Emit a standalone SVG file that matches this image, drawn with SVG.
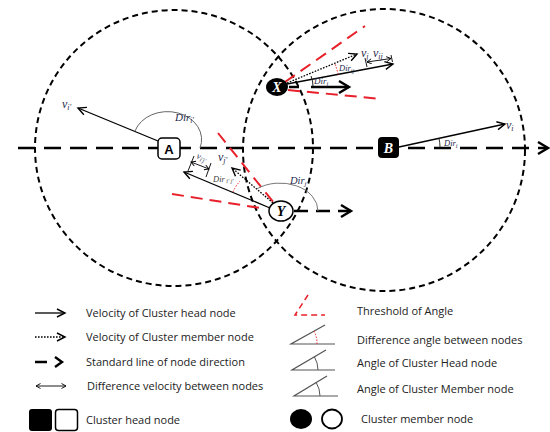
<svg xmlns="http://www.w3.org/2000/svg" width="550" height="432" viewBox="0 0 550 432">
<style>
.range{fill:none;stroke:#000;stroke-width:2;stroke-dasharray:6 4}
.std{fill:none;stroke:#000;stroke-width:2.5}
.vel{fill:none;stroke:#000;stroke-width:1.3}
.mem{fill:none;stroke:#000;stroke-width:1.3;stroke-dasharray:1.6 1.4}
.thr{fill:none;stroke:#e8202a;stroke-width:2;stroke-dasharray:12 7}
.diffarc{fill:none;stroke:#e8202a;stroke-width:1;stroke-dasharray:1.5 1.5}
.angarc{fill:none;stroke:#666;stroke-width:1}
.dim{fill:none;stroke:#000;stroke-width:0.9}
.lbl{font-family:"Liberation Serif",serif;font-style:italic;fill:#1f2a4a}
.leg{font-family:"Open Sans","Liberation Sans",sans-serif;font-size:11px;fill:#222}
.sym{fill:none;stroke:#555;stroke-width:1.2}
</style>
<defs>
<marker id="ah" markerUnits="userSpaceOnUse" markerWidth="12" markerHeight="12" refX="9" refY="5" orient="auto"><path d="M1,1 L9,5 L1,9" fill="none" stroke="#000" stroke-width="1.4"/></marker>
<marker id="ahT" markerUnits="userSpaceOnUse" markerWidth="14" markerHeight="16" refX="11" refY="7" orient="auto"><path d="M1,1 L11,7 L1,13" fill="none" stroke="#000" stroke-width="2.4"/></marker>
<marker id="ahS" markerUnits="userSpaceOnUse" markerWidth="8" markerHeight="8" refX="5" refY="3" orient="auto-start-reverse"><path d="M0.5,0.5 L5,3 L0.5,5.5" fill="none" stroke="#000" stroke-width="0.9"/></marker>
</defs>

<g id="ranges">
<ellipse cx="174" cy="148" rx="139" ry="138" class="range"/>
<circle cx="384" cy="150" r="141" class="range"/>
</g>

<g id="connectors">
<line x1="18" y1="148" x2="548" y2="148" class="std" style="stroke-dasharray:17 9" marker-end="url(#ahT)"/>
<!-- threshold lines -->
<line x1="285" y1="82" x2="365" y2="26" class="thr"/>
<line x1="288" y1="90" x2="382" y2="99" class="thr"/>
<line x1="218" y1="133" x2="274" y2="203" class="thr"/>
<line x1="172" y1="194" x2="260" y2="208" class="thr"/>
<!-- A velocity -->
<line x1="158" y1="141" x2="78" y2="108" class="vel" marker-end="url(#ah)"/>
<path d="M200,148 A33,27 0 0 0 135,131" class="angarc"/>
<!-- B velocity -->
<line x1="399" y1="147" x2="505" y2="124" class="vel" marker-end="url(#ah)"/>
<path d="M440,147 A40,40 0 0 0 439,138.4" class="angarc" style="stroke:#333"/>
<!-- X -->
<line x1="287" y1="83" x2="357" y2="54" class="mem" marker-end="url(#ah)"/>
<line x1="287" y1="84" x2="393" y2="64" class="vel" marker-end="url(#ah)"/>
<line x1="289" y1="87" x2="349" y2="87" class="std" style="stroke-dasharray:10 12 40" marker-end="url(#ahT)"/>
<path d="M313,86 A26,26 0 0 0 311,76" class="angarc" style="stroke:#222"/>
<path d="M338,74.4 A52,52 0 0 0 335,64" class="diffarc"/>
<line x1="365" y1="58" x2="367" y2="67" class="dim"/>
<line x1="391" y1="55" x2="392.5" y2="62" class="dim"/>
<line x1="367" y1="62" x2="391" y2="58.5" class="dim" marker-start="url(#ahS)" marker-end="url(#ahS)"/>
<!-- Y -->
<line x1="270" y1="208" x2="184" y2="172" class="vel" marker-end="url(#ah)"/>
<line x1="273" y1="203" x2="232" y2="168" class="mem" marker-end="url(#ah)"/>
<line x1="294" y1="211" x2="351" y2="211" class="std" style="stroke-dasharray:14 8" marker-end="url(#ahT)"/>
<path d="M318,211 A38,28 0 0 0 256.6,189" class="angarc" style="stroke:#777"/>
<path d="M233,192 A42,42 0 0 1 240,181" class="diffarc"/>
<line x1="188" y1="171" x2="194" y2="156" class="dim"/>
<line x1="206" y1="177" x2="211" y2="163" class="dim"/>
<line x1="191" y1="162" x2="209" y2="169" class="dim" marker-start="url(#ahS)" marker-end="url(#ahS)"/>
</g>

<g id="node-A">
<rect x="158" y="138" width="22" height="21" rx="4" fill="#fff" stroke="#000" stroke-width="1.5"/>
<text x="169" y="153.5" text-anchor="middle" font-family="Liberation Sans,sans-serif" font-weight="bold" font-size="13">A</text>
</g>
<g id="node-B">
<rect x="378" y="137" width="21" height="21" rx="4" fill="#000"/>
<text x="388.5" y="152.5" text-anchor="middle" font-family="Liberation Serif,serif" font-style="italic" font-weight="bold" font-size="14" fill="#fff">B</text>
</g>
<g id="node-X">
<ellipse cx="277" cy="87" rx="11" ry="9" fill="#000"/>
<text x="277" y="92" text-anchor="middle" font-family="Liberation Serif,serif" font-style="italic" font-weight="bold" font-size="14" fill="#fff">X</text>
</g>
<g id="node-Y">
<ellipse cx="281" cy="211" rx="12" ry="10" fill="#fff" stroke="#000" stroke-width="1.5"/>
<text x="281" y="216" text-anchor="middle" font-family="Liberation Serif,serif" font-style="italic" font-weight="bold" font-size="14" fill="#000">Y</text>
</g>

<g id="labels">
<text x="62" y="108" class="lbl" font-size="12">v<tspan font-size="8" dy="2">i'</tspan></text>
<text x="175" y="121" class="lbl" font-size="11">Dir<tspan font-size="7.5" dy="2">i'</tspan></text>
<text x="506" y="129" class="lbl" font-size="12">v<tspan font-size="8" dy="2">i</tspan></text>
<text x="444" y="146" class="lbl" font-size="8.5">Dir<tspan font-size="6" dy="1.5">i</tspan></text>
<text x="361" y="57" class="lbl" font-size="12">v<tspan font-size="8" dy="2">j</tspan></text>
<text x="373" y="57" class="lbl" font-size="12" font-style="normal">v<tspan font-size="8" dy="2">ij</tspan></text>
<text x="339" y="71" class="lbl" font-size="8.5">Dir<tspan font-size="6" dy="1.5">ij</tspan></text>
<text x="314" y="84" class="lbl" font-size="9">Dir<tspan font-size="6.5" dy="1.5">j</tspan></text>
<text x="218" y="161" class="lbl" font-size="12">v<tspan font-size="8" dy="2">j'</tspan></text>
<text x="196" y="158" class="lbl" font-size="9" transform="rotate(22 196 158)">v<tspan font-size="6.5" dy="1.5">i'j'</tspan></text>
<text x="213" y="182" class="lbl" font-size="8.5" style="fill:#444">Dir<tspan font-size="6" dy="1"> i' j'</tspan></text>
<text x="290" y="184" class="lbl" font-size="10.5">Dir<tspan font-size="7" dy="2">j</tspan></text>
</g>

<g id="legend">
<line x1="35" y1="313" x2="65" y2="313" class="vel" marker-end="url(#ah)"/>
<text x="86" y="317" class="leg">Velocity of Cluster head node</text>
<line x1="35" y1="337" x2="65" y2="337" class="mem" marker-end="url(#ah)"/>
<text x="86" y="341" class="leg">Velocity of Cluster member node</text>
<line x1="35" y1="362" x2="47" y2="362" class="std"/>
<path d="M55,357 L62,362 L55,367" fill="none" stroke="#000" stroke-width="2.4"/>
<text x="86" y="366" class="leg">Standard line of node direction</text>
<line x1="36" y1="386" x2="66" y2="386" class="dim" marker-start="url(#ahS)" marker-end="url(#ahS)"/>
<text x="87" y="390" class="leg">Difference velocity between nodes</text>
<rect x="29" y="409" width="23" height="22" rx="3" fill="#000"/>
<rect x="55.5" y="409.5" width="22" height="21" rx="3" fill="#fff" stroke="#000" stroke-width="1.5"/>
<text x="86" y="424" class="leg">Cluster head node</text>

<path d="M308,295 L295,315 L325,315" fill="none" stroke="#e8202a" stroke-width="1.5" stroke-dasharray="6 4"/>
<text x="357" y="315" class="leg">Threshold of Angle</text>
<path d="M335,344 L291,344 L325,325" class="sym"/>
<path d="M317,344 A26,26 0 0 0 314,331" class="diffarc"/>
<text x="357" y="344" class="leg">Difference angle between nodes</text>
<path d="M335,370 L292,370 L326,350" class="sym"/>
<path d="M318,370 A26,26 0 0 0 314.4,356.8" class="sym" style="stroke-width:1"/>
<text x="357" y="367" class="leg">Angle of Cluster Head node</text>
<path d="M338,396 L294,396 L327,376" class="sym"/>
<path d="M320,396 A26,26 0 0 0 316.2,382.5" class="sym" style="stroke-width:1"/>
<text x="357" y="393" class="leg">Angle of Cluster Member node</text>
<ellipse cx="301" cy="419" rx="11" ry="10" fill="#000"/>
<ellipse cx="332" cy="419" rx="10" ry="9.5" fill="#fff" stroke="#000" stroke-width="1.8"/>
<text x="361" y="423" class="leg">Cluster member node</text>
</g>
</svg>
